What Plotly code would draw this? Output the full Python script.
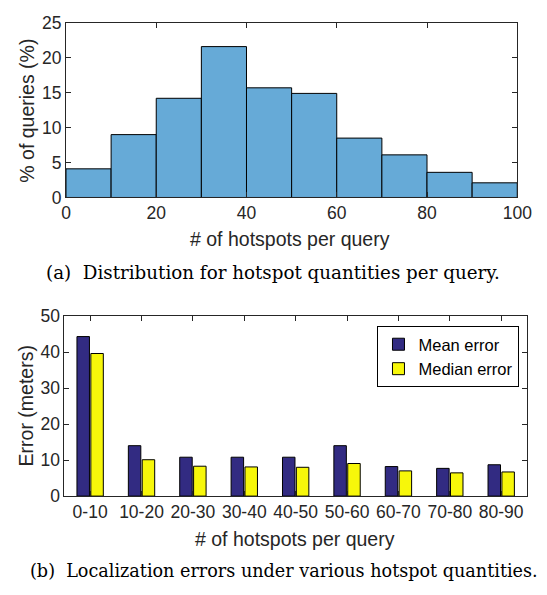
import plotly.graph_objects as go

W, H = 547, 595

# ---- data: histogram (a)
bin_starts = [0, 10, 20, 30, 40, 50, 60, 70, 80, 90]
bin_width = 10
pct_queries = [4.1, 9.0, 14.2, 21.6, 15.7, 14.9, 8.5, 6.1, 3.6, 2.1]

# ---- data: errors (b)
ranges = ["0-10", "10-20", "20-30", "30-40", "40-50", "50-60", "60-70", "70-80", "80-90"]
mean_err = [44.3, 14.0, 10.8, 10.8, 10.8, 14.0, 8.2, 7.7, 8.7]
median_err = [39.6, 10.1, 8.3, 8.1, 8.0, 9.05, 7.0, 6.45, 6.7]

FONT = "Liberation Sans, Arial, sans-serif"
SERIF = "DejaVu Serif, Liberation Serif, serif"
AX = "#262626"

def px(x):
    return x / W

def py(y):
    return 1 - y / H

fig = go.Figure()

fig.add_trace(go.Bar(
    x=bin_starts, y=pct_queries, width=bin_width, offset=0,
    marker=dict(color="#66AAD7", line=dict(color="black", width=1)),
    xaxis="x", yaxis="y", showlegend=False,
))

fig.add_trace(go.Bar(
    x=ranges, y=mean_err, name="Mean error",
    marker=dict(color="#322B82", line=dict(color="black", width=1)),
    xaxis="x2", yaxis="y2",
))
fig.add_trace(go.Bar(
    x=ranges, y=median_err, name="Median error",
    marker=dict(color="#F7F70A", line=dict(color="black", width=1)),
    xaxis="x2", yaxis="y2",
))

axcommon = dict(
    showline=True, linecolor=AX, linewidth=1, mirror="ticks",
    ticks="inside", ticklen=5, tickcolor=AX, showgrid=False, zeroline=False,
    tickfont=dict(family=FONT, size=17.5, color=AX),
)

fig.update_layout(
    width=W, height=H,
    margin=dict(l=0, r=0, t=0, b=0),
    paper_bgcolor="white", plot_bgcolor="white",
    barmode="group", bargap=0.46, bargroupgap=0.1,
    xaxis=dict(domain=[px(63.3), px(531.7)], anchor="y", range=[0, 100],
               tickvals=[0, 20, 40, 60, 80, 100], **axcommon),
    yaxis=dict(domain=[py(194), py(13.3)], anchor="x", range=[0, 25],
               tickvals=[0, 5, 10, 15, 20, 25], **axcommon),
    xaxis2=dict(domain=[px(61.7), px(541.7)], anchor="y2", range=[-0.5, 8.5],
                type="category", **axcommon),
    yaxis2=dict(domain=[py(503), py(316.7)], anchor="x2", range=[0, 50],
                tickvals=[0, 10, 20, 30, 40, 50], **axcommon),
    legend=dict(x=px(534), y=py(327), xanchor="right", yanchor="top",
                bgcolor="white", bordercolor="black", borderwidth=1,
                font=dict(family=FONT, size=16.5, color="black"),
                tracegroupgap=0, itemwidth=30),
    showlegend=True,
)

ann = [
    dict(text="% of queries (%)", x=px(22), y=py(104), textangle=-90,
         font=dict(family=FONT, size=19.5, color=AX)),
    dict(text="# of hotspots per query", x=px(296), y=py(237),
         font=dict(family=FONT, size=19.5, color=AX)),
    dict(text="(a)  Distribution for hotspot quantities per query.", x=px(278), y=py(272),
         font=dict(family=SERIF, size=18.3, color="black")),
    dict(text="Error (meters)", x=px(22), y=py(410), textangle=-90,
         font=dict(family=FONT, size=19.5, color=AX)),
    dict(text="# of hotspots per query", x=px(301), y=py(547),
         font=dict(family=FONT, size=19.5, color=AX)),
    dict(text="(b)  Localization errors under various hotspot quantities.", x=px(290), y=py(580),
         font=dict(family=SERIF, size=17.6, color="black")),
]
for a in ann:
    a.update(xref="paper", yref="paper", showarrow=False, xanchor="center", yanchor="middle")
fig.update_layout(annotations=ann)

fig.write_html("out.html")
